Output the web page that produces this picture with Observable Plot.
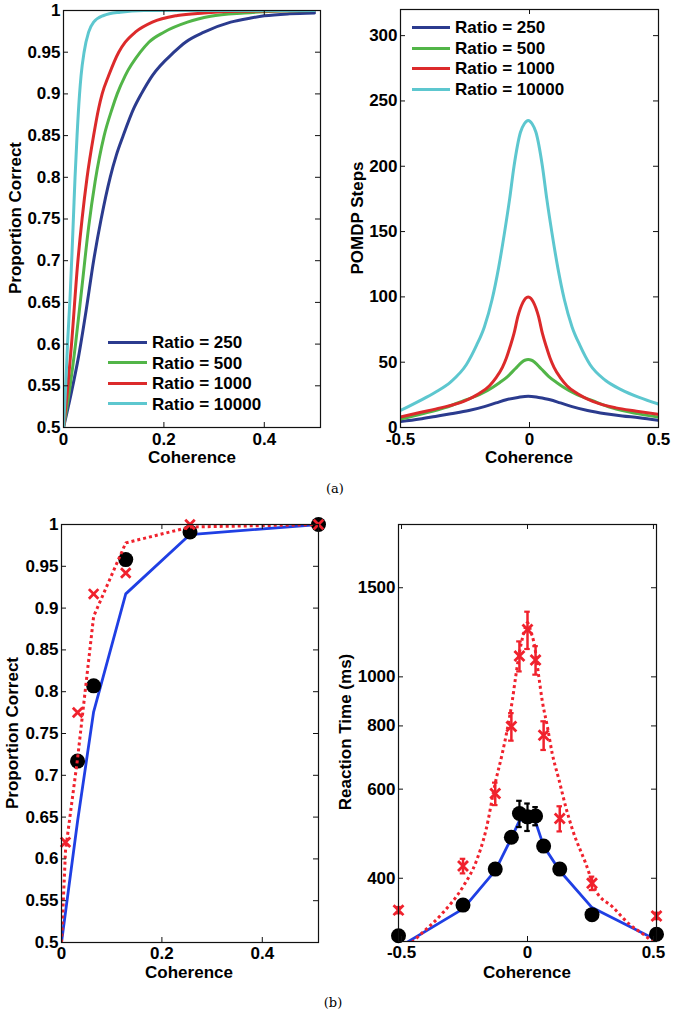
<!DOCTYPE html>
<html><head><meta charset="utf-8">
<script src="https://cdn.jsdelivr.net/npm/d3@7"></script>
<script src="https://cdn.jsdelivr.net/npm/@observablehq/plot@0.6"></script>
<style>
body{margin:0;background:#fff;}
#root{position:relative;width:675px;height:1014px;overflow:hidden;font-family:"Liberation Sans",Arial,Helvetica,sans-serif;}
.lab{position:absolute;font-weight:bold;font-size:17px;line-height:1;white-space:nowrap;color:#000;}
.cap{position:absolute;font-family:"DejaVu Serif","Liberation Serif",serif;font-size:13px;line-height:1;color:#000;}
.lg{position:absolute;height:3px;}
</style></head><body><div id="root"></div>
<script>
// ---------- DATA ----------
const ratioLabels = ["Ratio = 250", "Ratio = 500", "Ratio = 1000", "Ratio = 10000"];
const ratioColors = ["#2b3b8e", "#52b548", "#dc2a2b", "#5dc7cf"];

// (a) left: proportion correct vs coherence
const pc250Coh = [0, 0.015, 0.03, 0.045, 0.06, 0.075, 0.093, 0.105, 0.119, 0.14, 0.155, 0.177, 0.22, 0.243, 0.28, 0.333, 0.373, 0.4, 0.45, 0.5];
const pc250Val = [0.5, 0.54, 0.585, 0.64, 0.7, 0.75, 0.8, 0.826, 0.85, 0.8825, 0.9, 0.922, 0.95, 0.962, 0.974, 0.986, 0.991, 0.9936, 0.996, 0.997];
const pc500Coh = [0, 0.012, 0.024, 0.037, 0.05, 0.063, 0.081, 0.097, 0.107, 0.123, 0.153, 0.17, 0.2, 0.247, 0.293, 0.36, 0.42, 0.5];
const pc500Val = [0.5, 0.545, 0.6, 0.67, 0.74, 0.795, 0.85, 0.8825, 0.9, 0.922, 0.95, 0.962, 0.974, 0.986, 0.993, 0.997, 0.999, 1.0];
const pc1000Coh = [0, 0.008, 0.016, 0.028, 0.037, 0.047, 0.06, 0.07, 0.077, 0.09, 0.11, 0.123, 0.143, 0.177, 0.227, 0.28, 0.35, 0.5];
const pc1000Val = [0.5, 0.545, 0.6, 0.695, 0.75, 0.8, 0.85, 0.8825, 0.9, 0.922, 0.95, 0.962, 0.974, 0.986, 0.994, 0.997, 0.999, 1.0];
const pc10000Coh = [0, 0.004, 0.008, 0.013, 0.017, 0.02, 0.023, 0.027, 0.032, 0.035, 0.041, 0.05, 0.06, 0.08, 0.113, 0.16, 0.5];
const pc10000Val = [0.5, 0.545, 0.6, 0.655, 0.71, 0.755, 0.8, 0.85, 0.9, 0.922, 0.95, 0.974, 0.986, 0.994, 0.998, 1.0, 1.0];

// (a) right: POMDP steps vs coherence
const st250Coh = [-0.5, -0.425, -0.365, -0.305, -0.235, -0.175, -0.13, -0.09, -0.045, -0.005, 0.035, 0.08, 0.12, 0.165, 0.225, 0.295, 0.36, 0.425, 0.5];
const st250Val = [4.5, 6.5, 8.5, 10.5, 13, 16, 18.8, 21.3, 23, 24, 23, 21.3, 18.8, 16, 13, 10.5, 8.8, 7.5, 5.5];
const st500Coh = [-0.5, -0.415, -0.33, -0.255, -0.185, -0.145, -0.115, -0.085, -0.055, -0.03, -0.018, -0.005, 0.008, 0.02, 0.045, 0.075, 0.105, 0.135, 0.175, 0.245, 0.32, 0.405, 0.5];
const st500Val = [6.5, 10.5, 15, 20.5, 26, 30.5, 34.5, 39, 45, 50, 51.5, 52, 51.5, 50, 45, 39, 34.5, 30.5, 26, 20.5, 15, 11, 8];
const st1000Coh = [-0.5, -0.425, -0.345, -0.255, -0.195, -0.155, -0.13, -0.105, -0.09, -0.075, -0.06, -0.045, -0.025, -0.015, -0.005, 0.005, 0.015, 0.035, 0.05, 0.065, 0.08, 0.095, 0.12, 0.145, 0.185, 0.245, 0.335, 0.415, 0.5];
const st1000Val = [8, 11.5, 15, 20, 26, 32, 38, 46, 53, 62, 72, 85, 96, 99, 100, 99, 96, 85, 72, 62, 53, 46, 38, 32, 26, 20, 15, 12.5, 10];
const st10000Coh = [-0.5, -0.43, -0.365, -0.305, -0.245, -0.205, -0.175, -0.145, -0.12, -0.097, -0.077, -0.06, -0.035, -0.02, -0.005, 0.01, 0.025, 0.05, 0.067, 0.087, 0.11, 0.135, 0.165, 0.195, 0.235, 0.295, 0.355, 0.425, 0.5];
const st10000Val = [13, 20, 27, 35, 48, 63, 77, 98, 122, 149, 175, 200, 226, 232.5, 235, 232.5, 226, 200, 175, 149, 122, 98, 77, 63, 48, 36, 29, 23, 18];

// (b) left: proportion correct, data vs model
const bpcDataCoh = [0.032, 0.064, 0.128, 0.256, 0.512];
const bpcDataVal = [0.717, 0.807, 0.958, 0.991, 1.0];
const bpcCrossCoh = [0.008, 0.032, 0.064, 0.128, 0.256, 0.512];
const bpcCrossVal = [0.62, 0.775, 0.917, 0.942, 1.0, 1.0];
const bpcBlueCoh = [0, 0.032, 0.064, 0.128, 0.256, 0.512];
const bpcBlueVal = [0.5, 0.645, 0.776, 0.917, 0.988, 1.0];
const bpcDotCoh = [0, 0.008, 0.032, 0.064, 0.128, 0.256, 0.512];
const bpcDotVal = [0.5, 0.61, 0.72, 0.89, 0.978, 0.997, 1.0];

// (b) right: reaction time (ms), log scale
const rtCoh = [-0.512, -0.256, -0.128, -0.064, -0.032, 0, 0.032, 0.064, 0.128, 0.256, 0.512];
const rtBlueVal = [292, 348, 414, 480, 520, 527, 517, 463, 414, 350, 302];
const rtDataVal = [308, 354, 417, 482, 537, 529, 531, 463, 417, 339, 310];
const rtDataErr = [6, 8, 10, 12, 32, 33, 22, 12, 10, 8, 6];
const rtCrossVal = [346, 423, 588, 798, 1100, 1240, 1080, 767, 525, 391, 337];
const rtCrossErr = [5, 14, 30, 50, 75, 105, 70, 50, 30, 12, 5];
const rtDotCoh = [-0.512, -0.43, -0.338, -0.256, -0.205, -0.164, -0.127, -0.1, -0.081, -0.06, -0.047, -0.035, -0.014, 0, 0.014, 0.026, 0.045, 0.058, 0.079, 0.098, 0.125, 0.152, 0.178, 0.231, 0.27, 0.338, 0.403, 0.471, 0.512];
const rtDotVal = [283, 308, 341, 385, 430, 500, 620, 706, 784, 900, 1000, 1095, 1225, 1280, 1225, 1166, 1000, 900, 797, 706, 626, 553, 500, 428, 379, 351, 325, 307, 295];

// tick values
const pcTicks = [0.5, 0.55, 0.6, 0.65, 0.7, 0.75, 0.8, 0.85, 0.9, 0.95, 1];
const cohTicksPos = [0, 0.2, 0.4];
const cohTicksSym = [-0.5, 0, 0.5];
const stepTicks = [0, 50, 100, 150, 200, 250, 300];
const rtTicks = [400, 600, 800, 1000, 1500];

// ---------- DRAWING ----------
const root = document.getElementById("root");
const FONT = "'Liberation Sans', Arial, Helvetica, sans-serif";
const pts = (xs, ys) => xs.map((x, i) => ({x, y: ys[i]}));
const symFmt = d => String(d);
const BLUE = "#1f3fe4", RED = "#f0222d";

function panel(o) {
  const mL = 62, mR = 18, mT = 14, mB = 34;
  const fw = o.fw, fh = o.fh;
  const svg = Plot.plot({
    width: fw + mL + mR, height: fh + mT + mB,
    marginLeft: mL, marginRight: mR, marginTop: mT, marginBottom: mB,
    style: `background:transparent;overflow:visible;font-family:${FONT};font-size:17px;font-weight:bold;color:#000;`,
    x: o.x, y: o.y,
    marks: [
      ...o.marks,
      Plot.frame({stroke: "#111", strokeWidth: 1.2}),
      Plot.tickY(o.yTicks, {y: d => d, insetRight: fw - 5, stroke: "#111", strokeWidth: 1}),
      Plot.tickY(o.yTicks, {y: d => d, insetLeft: fw - 5, stroke: "#111", strokeWidth: 1}),
      Plot.tickX(o.xTicks, {x: d => d, insetBottom: fh - 5, stroke: "#111", strokeWidth: 1}),
      Plot.tickX(o.xTicks, {x: d => d, insetTop: fh - 5, stroke: "#111", strokeWidth: 1}),
      Plot.axisX({ticks: o.xTicks, tickSize: 0, tickPadding: o.xPad, tickFormat: o.xFmt, label: null}),
      Plot.axisY({ticks: o.yTicks, tickSize: 0, tickPadding: 3, tickFormat: o.yFmt, label: null})
    ]
  });
  svg.style.position = "absolute";
  svg.style.left = (o.fx - mL) + "px";
  svg.style.top = (o.fy - mT) + "px";
  root.appendChild(svg);
}

function label(text, cx, cy, rotate) {
  const d = document.createElement("div");
  d.className = "lab";
  d.textContent = text;
  d.style.left = cx + "px";
  d.style.top = cy + "px";
  d.style.transform = "translate(-50%,-50%)" + (rotate ? " rotate(-90deg)" : "");
  root.appendChild(d);
}
function caption(text, cx, cy) {
  const d = document.createElement("div");
  d.className = "cap";
  d.textContent = text;
  d.style.left = cx + "px";
  d.style.top = cy + "px";
  d.style.transform = "translate(-50%,-50%)";
  root.appendChild(d);
}
function legend(x0, x1, tx, rows) {
  ratioLabels.forEach((t, i) => {
    const l = document.createElement("div");
    l.className = "lg";
    l.style.left = x0 + "px"; l.style.width = (x1 - x0) + "px";
    l.style.top = (rows[i] - 1.5) + "px"; l.style.background = ratioColors[i];
    root.appendChild(l);
    const d = document.createElement("div");
    d.className = "lab"; d.textContent = t;
    d.style.left = tx + "px"; d.style.top = rows[i] + "px";
    d.style.transform = "translateY(-50%)";
    root.appendChild(d);
  });
}

const dotted = {stroke: RED, strokeWidth: 3, strokeDasharray: "3,3", strokeLinecap: "butt", strokeLinejoin: "miter", clip: true};

// (a) left
const pcSeries = [[pc250Coh, pc250Val], [pc500Coh, pc500Val], [pc1000Coh, pc1000Val], [pc10000Coh, pc10000Val]];
panel({
  fx: 63, fy: 10, fw: 257, fh: 417, xPad: 5,
  x: {domain: [0, 0.512]}, y: {domain: [0.5, 1]},
  xTicks: cohTicksPos, yTicks: pcTicks, xFmt: d => String(d), yFmt: d => String(d),
  marks: pcSeries.map(([xs, ys], i) => Plot.line(pts(xs, ys), {x: "x", y: "y", stroke: ratioColors[i], strokeWidth: 3, curve: "monotone-x", clip: true}))
});
// (a) right
const stSeries = [[st250Coh, st250Val], [st500Coh, st500Val], [st1000Coh, st1000Val], [st10000Coh, st10000Val]];
panel({
  fx: 400, fy: 9, fw: 258, fh: 418, xPad: 5,
  x: {domain: [-0.5, 0.5]}, y: {domain: [0, 320]},
  xTicks: cohTicksSym, yTicks: stepTicks, xFmt: symFmt, yFmt: d => String(d),
  marks: stSeries.map(([xs, ys], i) => Plot.line(pts(xs, ys), {x: "x", y: "y", stroke: ratioColors[i], strokeWidth: 3, curve: "monotone-x", clip: true}))
});
// (b) left
panel({
  fx: 61, fy: 524, fw: 257, fh: 418, xPad: 4,
  x: {domain: [0, 0.512]}, y: {domain: [0.5, 1]},
  xTicks: cohTicksPos, yTicks: pcTicks, xFmt: d => String(d), yFmt: d => String(d),
  marks: [
    Plot.line(pts(bpcBlueCoh, bpcBlueVal), {x: "x", y: "y", stroke: BLUE, strokeWidth: 2.8, clip: true}),
    Plot.dot(pts(bpcDataCoh, bpcDataVal), {x: "x", y: "y", r: 7.5, fill: "#000"}),
    Plot.line(pts(bpcDotCoh, bpcDotVal), {x: "x", y: "y", ...dotted}),
    Plot.dot(pts(bpcCrossCoh, bpcCrossVal), {x: "x", y: "y", symbol: "times", r: 4.4, stroke: RED, strokeWidth: 2.8})
  ]
});
// (b) right
const rtData = rtCoh.map((c, i) => ({x: c, y: rtDataVal[i], e: rtDataErr[i]}));
const rtCross = rtCoh.map((c, i) => ({x: c, y: rtCrossVal[i], e: rtCrossErr[i]}));
const cap = 0.011;
panel({
  fx: 398, fy: 524, fw: 258, fh: 417, xPad: 4,
  x: {domain: [-0.512, 0.512]}, y: {type: "log", domain: [300, 2000]},
  xTicks: cohTicksSym, yTicks: rtTicks, xFmt: symFmt, yFmt: d => String(d),
  marks: [
    Plot.line(pts(rtCoh, rtBlueVal), {x: "x", y: "y", stroke: BLUE, strokeWidth: 2.8, clip: true}),
    Plot.ruleX(rtData, {x: "x", y1: d => d.y - d.e, y2: d => d.y + d.e, stroke: "#000", strokeWidth: 2.2}),
    Plot.ruleY(rtData, {y: d => d.y - d.e, x1: d => d.x - cap, x2: d => d.x + cap, stroke: "#000", strokeWidth: 2.2}),
    Plot.ruleY(rtData, {y: d => d.y + d.e, x1: d => d.x - cap, x2: d => d.x + cap, stroke: "#000", strokeWidth: 2.2}),
    Plot.dot(rtData, {x: "x", y: "y", r: 7.5, fill: "#000"}),
    Plot.line(pts(rtDotCoh, rtDotVal), {x: "x", y: "y", ...dotted, curve: "monotone-x"}),
    Plot.ruleX(rtCross, {x: "x", y1: d => d.y - d.e, y2: d => d.y + d.e, stroke: RED, strokeWidth: 2.5}),
    Plot.ruleY(rtCross, {y: d => d.y - d.e, x1: d => d.x - cap, x2: d => d.x + cap, stroke: RED, strokeWidth: 2.2}),
    Plot.ruleY(rtCross, {y: d => d.y + d.e, x1: d => d.x - cap, x2: d => d.x + cap, stroke: RED, strokeWidth: 2.2}),
    Plot.dot(rtCross, {x: "x", y: "y", symbol: "times", r: 4.6, stroke: RED, strokeWidth: 2.8})
  ]
});

// axis titles
label("Proportion Correct", 15, 218, true);
label("Coherence", 192, 457, false);
label("POMDP Steps", 357, 218, true);
label("Coherence", 529, 457, false);
label("Proportion Correct", 12, 733, true);
label("Coherence", 189, 972, false);
label("Reaction Time (ms)", 345, 732, true);
label("Coherence", 527, 972, false);
caption("(a)", 335, 488);
caption("(b)", 333, 1002);

// legends
legend(108, 147, 152, [342, 362.5, 383, 403.5]);
legend(412, 450, 455, [27, 48, 68, 89]);
</script></body></html>
